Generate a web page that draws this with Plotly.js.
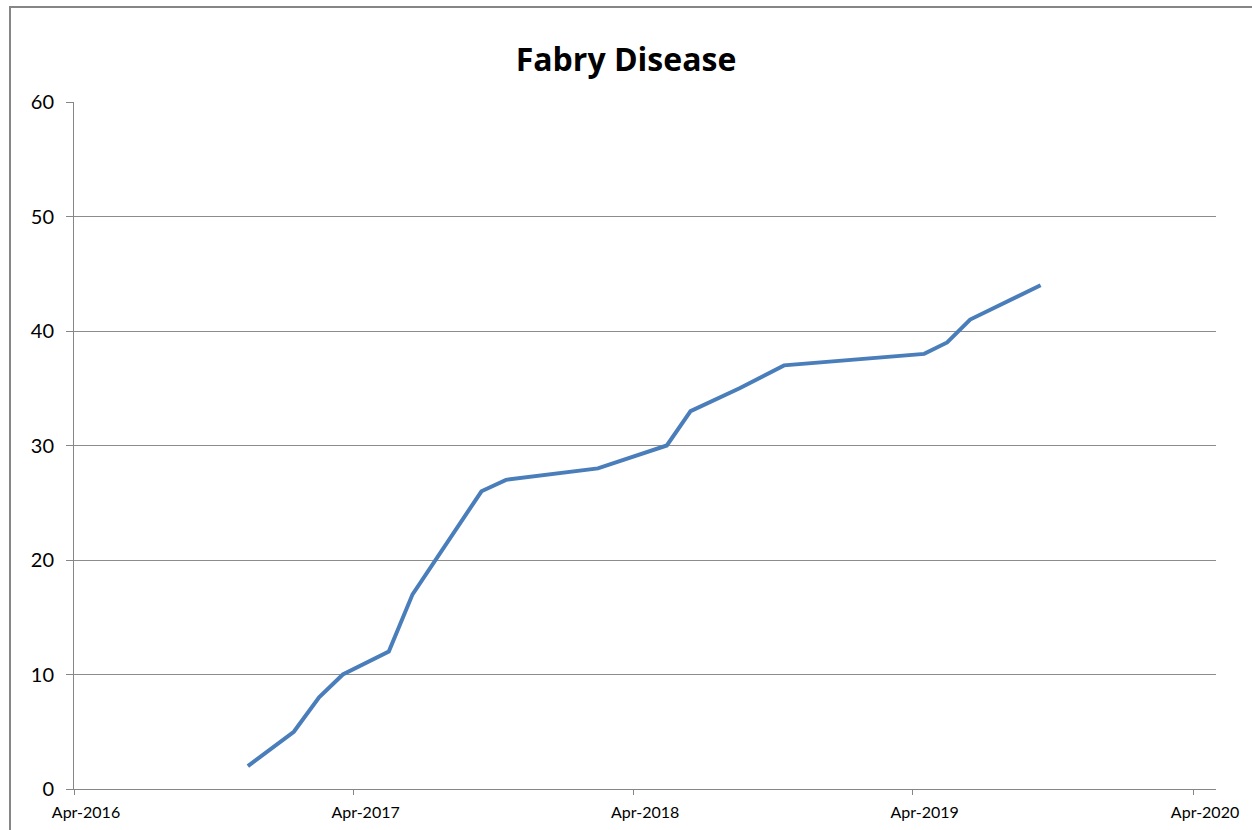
<!DOCTYPE html>
<html>
<head>
<meta charset="utf-8">
<script src="https://cdn.plot.ly/plotly-3.0.1.min.js"></script>
<style>
html,body{margin:0;padding:0;background:#fff;}
#chart{width:1252px;height:830px;}
</style>
</head>
<body>
<div id="chart"></div>
<script>
// Data
var dates = [
  "2016-11-14", "2017-01-13", "2017-02-15", "2017-03-18", "2017-05-17",
  "2017-06-17", "2017-09-15", "2017-10-17", "2018-02-14", "2018-05-15",
  "2018-06-15", "2018-08-18", "2018-10-15", "2019-04-16", "2019-05-16",
  "2019-06-15", "2019-09-15"
];
var counts = [2, 5, 8, 10, 12, 17, 26, 27, 28, 30, 33, 35, 37, 38, 39, 41, 44];
var chartTitle = "Fabry Disease";
var xRange = ["2016-04-01", "2020-05-01"];
var yRange = [0, 60];

var trace = {
  x: dates,
  y: counts,
  type: "scatter",
  mode: "lines",
  line: {color: "#4a7ebb", width: 4},
  hoverinfo: "x+y"
};

var layout = {
  width: 1252,
  height: 830,
  paper_bgcolor: "#ffffff",
  plot_bgcolor: "#ffffff",
  margin: {l: 74, r: 36, t: 102, b: 41, pad: 0},
  showlegend: false,
  font: {family: "Lato, 'Open Sans', sans-serif", color: "#000"},
  title: {
    text: "<b>" + chartTitle + "</b>",
    font: {family: "'Open Sans', sans-serif", size: 32, color: "#000"},
    x: 0.5,
    xanchor: "center",
    y: 1 - 60 / 830,
    yanchor: "middle"
  },
  xaxis: {
    type: "date",
    range: xRange,
    tick0: "2016-04-01",
    dtick: "M12",
    tickformat: "%b-%Y",
    showgrid: false,
    zeroline: false,
    showline: true,
    linecolor: "#868686",
    linewidth: 1,
    ticks: "outside",
    ticklen: 5,
    tickcolor: "#868686",
    tickfont: {size: 16, color: "#000"},
    ticklabelstandoff: 4,
    ticklabelshift: 12
  },
  yaxis: {
    range: yRange,
    dtick: 10,
    tick0: 0,
    showgrid: true,
    gridcolor: "#8c8c8c",
    gridwidth: 1,
    zeroline: false,
    showline: true,
    linecolor: "#868686",
    linewidth: 1,
    ticks: "outside",
    ticklen: 7,
    tickcolor: "#868686",
    tickfont: {size: 20, color: "#000"},
    ticklabelstandoff: 8
  },
  shapes: [{
    type: "rect",
    xref: "paper", yref: "paper",
    x0: (10 - 74) / 1142, x1: (1262 - 74) / 1142,
    y0: (789 - 840) / 687, y1: (789 - 7) / 687,
    line: {color: "#868686", width: 2},
    fillcolor: "rgba(0,0,0,0)",
    layer: "below"
  }]
};

Plotly.newPlot("chart", [trace], layout, {displayModeBar: false, staticPlot: true});
</script>
</body>
</html>
